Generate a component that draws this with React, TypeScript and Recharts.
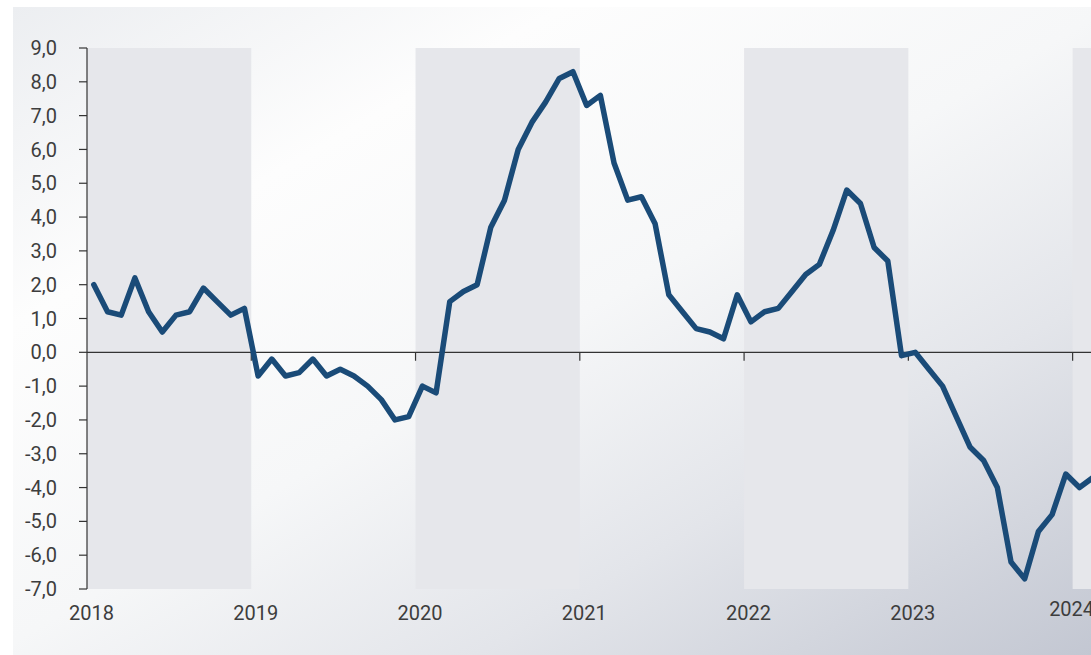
import { LineChart, Line, XAxis, YAxis, ReferenceArea, ReferenceLine } from 'recharts';

// monthly values, one list per year
const v2018 = [2.0, 1.2, 1.1, 2.2, 1.2, 0.6, 1.1, 1.2, 1.9, 1.5, 1.1, 1.3];
const v2019 = [-0.7, -0.2, -0.7, -0.6, -0.2, -0.7, -0.5, -0.7, -1.0, -1.4, -2.0, -1.9];
const v2020 = [-1.0, -1.2, 1.5, 1.8, 2.0, 3.7, 4.5, 6.0, 6.8, 7.4, 8.1, 8.3];
const v2021 = [7.3, 7.6, 5.6, 4.5, 4.6, 3.8, 1.7, 1.2, 0.7, 0.6, 0.4, 1.7];
const v2022 = [0.9, 1.2, 1.3, 1.8, 2.3, 2.6, 3.6, 4.8, 4.4, 3.1, 2.7, -0.1];
const v2023 = [0.0, -0.5, -1.0, -1.9, -2.8, -3.2, -4.0, -6.2, -6.7, -5.3, -4.8, -3.6];
const v2024 = [-4.0, -3.7];

const years = [2018, 2019, 2020, 2021, 2022, 2023, 2024];
const shadedYears = [2018, 2020, 2022, 2024];
const yTicks = [-7, -6, -5, -4, -3, -2, -1, 0, 1, 2, 3, 4, 5, 6, 7, 8, 9];

const series = [...v2018, ...v2019, ...v2020, ...v2021, ...v2022, ...v2023, ...v2024];
// points sit in the middle of each month
const data = series.map((value, i) => ({ t: i + 0.5, value }));

const X_MAX = 74;
const yearTicks = years.map((y) => (y - years[0]) * 12);
const textColor = '#3d3d3d';
const axisColor = '#333333';

function fmtY(v: number): string {
  return v.toFixed(1).replace('.', ',');
}

function YearTick(props: any) {
  const { x, y, payload } = props;
  const label = String(years[0] + Math.round(payload.value / 12));
  const last = payload.value === yearTicks[yearTicks.length - 1];
  return (
    <text
      x={x + (last ? -1 : 4.5)}
      y={y + (last ? 27 : 30.5)}
      textAnchor="middle"
      fill={textColor}
      fontSize={20}
      fontFamily="Roboto"
    >
      {label}
    </text>
  );
}

export default function App() {
  return (
    <div
      style={{
        position: 'absolute',
        left: 0,
        top: 0,
        width: 1091,
        height: 655,
        overflow: 'hidden',
        background: '#ffffff',
      }}
    >
      <div
        style={{
          position: 'absolute',
          left: 13,
          top: 7,
          right: 0,
          bottom: 0,
          background:
            'linear-gradient(150deg, #eceef1 0%, #fdfdfd 25%, #f6f7f8 50%, #e3e5ea 72%, #c3c7d2 100%)',
        }}
      />
      <div style={{ position: 'absolute', left: 0, top: 0 }}>
        <LineChart width={1100} height={655} data={data} margin={{ top: 48, right: 0, bottom: 0, left: 0 }}>
          {shadedYears.map((yr) => {
            const start = (yr - years[0]) * 12;
            return (
              <ReferenceArea
                key={yr}
                x1={start}
                x2={Math.min(start + 12, X_MAX)}
                y1={-7}
                y2={9}
                fill="#e6e7eb"
                fillOpacity={1}
                stroke="none"
              />
            );
          })}
          <XAxis
            type="number"
            dataKey="t"
            domain={[0, X_MAX]}
            ticks={yearTicks}
            interval={0}
            height={66}
            axisLine={false}
            tickLine={false}
            tickSize={0}
            tickMargin={0}
            tick={<YearTick />}
          />
          <YAxis
            domain={[-7, 9]}
            ticks={yTicks}
            interval={0}
            width={87}
            tickFormatter={fmtY}
            axisLine={{ stroke: axisColor, strokeWidth: 1.2 }}
            tickLine={{ stroke: axisColor, strokeWidth: 1.2 }}
            tickSize={8}
            tickMargin={22}
            tick={{ fill: textColor, fontSize: 20, fontFamily: 'Roboto' }}
          />
          <ReferenceLine y={0} stroke={axisColor} strokeWidth={1.2} />
          {yearTicks.slice(1).map((t) => (
            <ReferenceLine
              key={t}
              segment={[
                { x: t, y: 0 },
                { x: t, y: -0.25 },
              ]}
              stroke={axisColor}
              strokeWidth={1.2}
            />
          ))}
          <Line
            type="linear"
            dataKey="value"
            stroke="#1a4b78"
            strokeWidth={5.5}
            strokeLinejoin="round"
            strokeLinecap="round"
            dot={false}
            activeDot={false}
            isAnimationActive={false}
          />
        </LineChart>
      </div>
    </div>
  );
}
